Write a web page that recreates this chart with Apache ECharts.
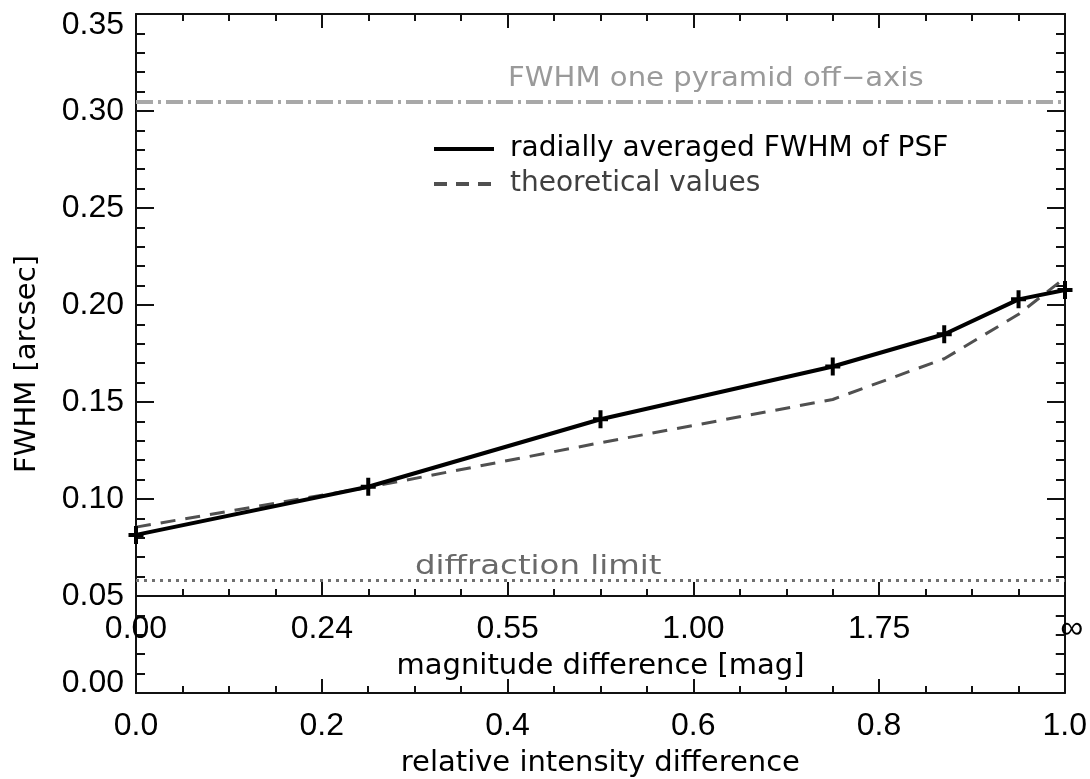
<!DOCTYPE html>
<html>
<head>
<meta charset="utf-8">
<script src="https://cdn.jsdelivr.net/npm/echarts@6/dist/echarts.min.js"></script>
<style>
  html, body { margin: 0; padding: 0; background: #fff; }
  #chart { width: 1090px; height: 779px; }
</style>
</head>
<body>
<div id="chart"></div>
<script>
// sampled points, x = relative intensity difference
var relIntensity = [0, 0.25, 0.5, 0.75, 0.87, 0.95, 1.0];
var fwhmMeasured = [0.0815, 0.1063, 0.1411, 0.1683, 0.1849, 0.2029, 0.2077];
var fwhmTheory = [0.0855, 0.106, 0.129, 0.1513, 0.1723, 0.1952, 0.214];

// magnitude labels shown on the inner axis (at 0, 0.2, ... 1.0)
var magLabels = ['0.00', '0.24', '0.55', '1.00', '1.75', '∞'];

// horizontal reference levels
var offAxisLevel = 0.305;
var diffLimit = 0.058;

var numFont = 'Liberation Sans';
var textFont = 'DejaVu Sans';
var ink = '#111';

function zip(xs, ys) {
    return xs.map(function (x, i) { return [x, ys[i]]; });
}

var lineSt = { color: ink, width: 2 };

function xAx(grid, pos, labels) {
    return {
        gridIndex: grid,
        type: 'value',
        position: pos,
        min: 0,
        max: 1,
        interval: 0.2,
        axisLine: { show: true, onZero: false, lineStyle: lineSt },
        axisTick: { show: true, inside: true, length: 14, lineStyle: lineSt },
        minorTick: { show: true, splitNumber: 4, length: 7, lineStyle: lineSt },
        splitLine: { show: false },
        minorSplitLine: { show: false },
        axisLabel: labels ? labels : { show: false }
    };
}

function yAx(grid, pos, min, max, labels) {
    return {
        gridIndex: grid,
        type: 'value',
        position: pos,
        min: min,
        max: max,
        interval: 0.05,
        axisLine: { show: true, onZero: false, lineStyle: lineSt },
        axisTick: { show: true, inside: true, length: 18, lineStyle: lineSt },
        minorTick: { show: true, splitNumber: 5, length: 9, lineStyle: lineSt },
        splitLine: { show: false },
        minorSplitLine: { show: false },
        axisLabel: labels ? labels : { show: false }
    };
}

var labelBase = { fontFamily: numFont, fontSize: 32, color: '#000' };

var xAxes = [
    // magnitude axis (lower edge of the upper panel)
    xAx(0, 'bottom', Object.assign({}, labelBase, {
        margin: 17,
        formatter: function (v) {
            var s = magLabels[Math.round(v / 0.2)];
            return s === '∞' ? '{inf|∞}' : s;
        },
        rich: { inf: { fontFamily: numFont, fontSize: 32, color: '#000', padding: [0, 0, 0, 14] } }
    })),
    xAx(0, 'top', null),
    // relative intensity axis
    xAx(1, 'bottom', Object.assign({}, labelBase, {
        margin: 17,
        formatter: function (v) { return v.toFixed(1); }
    }))
];
xAxes[0].name = 'magnitude difference [mag]';
xAxes[0].nameLocation = 'middle';
xAxes[0].nameGap = 56;
xAxes[0].nameTextStyle = { fontFamily: textFont, fontSize: 29, color: '#000' };
xAxes[2].name = 'relative intensity difference';
xAxes[2].nameLocation = 'middle';
xAxes[2].nameGap = 56;
xAxes[2].nameTextStyle = { fontFamily: textFont, fontSize: 29, color: '#000' };

var yAxes = [
    yAx(0, 'left', 0.05, 0.35, Object.assign({}, labelBase, {
        margin: 12,
        formatter: function (v) {
            var s = v.toFixed(2);
            return s === '0.35' ? '{t|0.35}' : s;
        },
        rich: { t: { fontFamily: numFont, fontSize: 32, color: '#000', padding: [22, 0, 0, 0] } }
    })),
    yAx(0, 'right', 0.05, 0.35, null),
    yAx(1, 'left', 0, 0.05, Object.assign({}, labelBase, {
        margin: 12,
        formatter: function (v) { return v < 0.01 ? '{b|0.00}' : ''; },
        rich: { b: { fontFamily: numFont, fontSize: 32, color: '#000', padding: [0, 0, 20, 0] } }
    })),
    yAx(1, 'right', 0, 0.05, null)
];

var plusSymbol = 'path://M5.5,0H9.5V18H5.5ZM0,7H15V11H0Z';

var option = {
    animation: false,
    backgroundColor: '#fff',
    grid: [
        { left: 136, right: 25, top: 14, height: 582, containLabel: false },
        { left: 136, right: 25, top: 596, height: 97, containLabel: false }
    ],
    xAxis: xAxes,
    yAxis: yAxes,
    legend: {
        data: [
            { name: 'radially averaged FWHM of PSF', textStyle: { color: '#000' },
              lineStyle: { width: 4, color: '#000' } },
            { name: 'theoretical values', textStyle: { color: '#404040' },
              lineStyle: { width: 4, color: '#505050', type: [13, 9] } }
        ],
        orient: 'vertical',
        left: 432,
        top: 134,
        padding: 0,
        itemWidth: 60,
        itemHeight: 14,
        itemGap: 5,
        selectedMode: false,
        itemStyle: { opacity: 0 },
        lineStyle: { width: 'inherit' },
        textStyle: { fontFamily: textFont, fontSize: 28, lineHeight: 30, padding: [0, 0, 0, 11] }
    },
    graphic: [
        {
            type: 'text', x: 27, y: 364, rotation: Math.PI / 2,
            style: { text: 'FWHM [arcsec]', fontFamily: textFont, fontSize: 29, fill: '#000',
                     textAlign: 'center', textVerticalAlign: 'middle' }
        },
        {
            type: 'text', x: 508, y: 79, scaleX: 1.12,
            style: { text: 'FWHM one pyramid off\u2212axis', fontFamily: textFont, fontSize: 26, fill: '#9a9a9a',
                     textAlign: 'left', textVerticalAlign: 'middle' }
        },
        {
            type: 'text', x: 415, y: 567, scaleX: 1.2,
            style: { text: 'diffraction limit', fontFamily: textFont, fontSize: 27, fill: '#6a6a6a',
                     textAlign: 'left', textVerticalAlign: 'middle' }
        }
    ],
    series: [
        {
            name: 'theoretical values',
            type: 'line',
            xAxisIndex: 0,
            yAxisIndex: 0,
            data: zip(relIntensity, fwhmTheory),
            symbol: 'none',
            lineStyle: { color: '#505050', width: 3, type: [15, 10] },
            itemStyle: { color: '#505050' },
            z: 2
        },
        {
            name: 'radially averaged FWHM of PSF',
            type: 'line',
            xAxisIndex: 0,
            yAxisIndex: 0,
            data: zip(relIntensity, fwhmMeasured),
            symbol: plusSymbol,
            symbolSize: [15, 18],
            showAllSymbol: true,
            lineStyle: { color: '#000', width: 4 },
            itemStyle: { color: '#000' },
            z: 3
        },
        {
            name: 'reference',
            type: 'line',
            xAxisIndex: 0,
            yAxisIndex: 0,
            data: [],
            markLine: {
                silent: true,
                animation: false,
                precision: 4,
                symbol: ['none', 'none'],
                label: { show: false },
                data: [
                    { yAxis: offAxisLevel, lineStyle: { color: '#a8a8a8', width: 4, type: [17, 5, 3, 5] } },
                    { yAxis: diffLimit, lineStyle: { color: '#707070', width: 3, type: [3, 5] } }
                ]
            }
        }
    ]
};

var chart = echarts.init(document.getElementById('chart'));
chart.setOption(option);
</script>
</body>
</html>
